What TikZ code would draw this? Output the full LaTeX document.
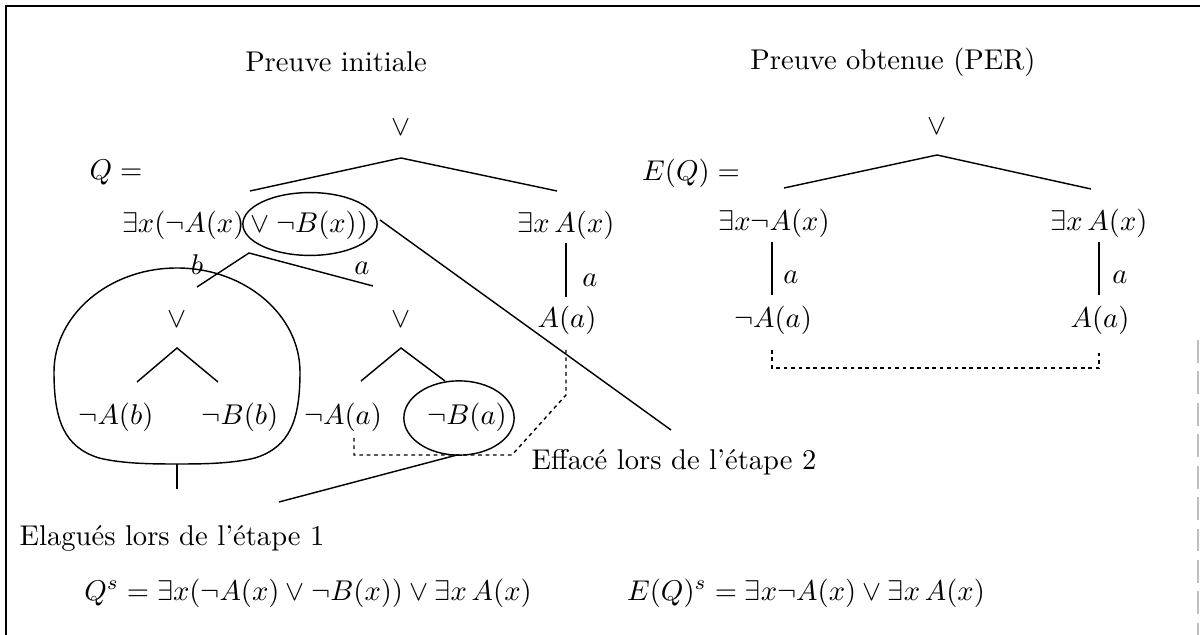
\documentclass[tikz,border=0pt]{standalone}
\begin{document}
\begin{tikzpicture}[x=0.35pt,y=-0.35pt, line width=0.5pt,
  lbl/.style={inner sep=0pt, anchor=center},
  dots/.style={dash pattern=on 1.3pt off 1.3pt, line width=0.5pt}]
\useasboundingbox (0,0) rectangle (1200,635);
% frame
\coordinate (fBL) at (6,635);
\coordinate (fTL) at (6,6);
\coordinate (fTR) at (1200,6);
\draw (fBL) -- (fTL) -- (fTR);
\coordinate (fR1) at (1198,340);
\coordinate (fR2) at (1198,635);
\draw[gray!50, dash pattern=on 8pt off 3pt] (fR1) -- (fR2);

% titles
\node[lbl] (t1) at (336,62) {Preuve initiale};
\node[lbl] (t2) at (893,62) {Preuve obtenue (PER)};

% ---------- left proof ----------
\node[lbl] (vL) at (401,128) {$\vee$};
\coordinate (apL) at (401,158);
\coordinate (brL1) at (250,191);
\coordinate (brL2) at (557,191);
\draw (brL1) -- (apL) -- (brL2);
\node[lbl] (Qeq) at (116,173) {$Q =$};
\node[lbl] (nL1) at (245,225) {$\exists x(\neg A(x) \vee \neg B(x))$};
\coordinate (e1) at (310,224);
\draw (e1) ellipse [x radius=23.5pt, y radius=11pt];
\node[lbl] (nR1) at (566,225) {$\exists x\,A(x)$};

\coordinate (vRa) at (566,243);
\coordinate (vRb) at (566,297);
\draw (vRa) -- (vRb);
\node[lbl] (lRa) at (590,280) {$a$};
\node[lbl] (nRA) at (567,320) {$A(a)$};

% long pointer to "Efface"
\coordinate (lg1) at (380,220);
\coordinate (lg2) at (671,430);
\draw (lg1) -- (lg2);
\node[lbl] (eff) at (674,462) {Effacé lors de l'étape 2};

% branch below the ellipse
\coordinate (ap2) at (249,253);
\coordinate (b2L) at (197,287);
\coordinate (b2R) at (373,286);
\draw (b2L) -- (ap2) -- (b2R);
\node[lbl] (lb) at (197,265) {$b$};
\node[lbl] (la) at (362,268) {$a$};

% pruned blob
\coordinate (blT) at (177,268);
\coordinate (blR) at (300,372);
\coordinate (blB) at (177,464);
\coordinate (blL) at (54,372);
\draw (blT) .. controls (245,268) and (300,315) .. (blR)
  .. controls (300,420) and (290,447) .. (255,458)
  .. controls (230,464) and (200,464) .. (blB)
  .. controls (154,464) and (124,464) .. (99,458)
  .. controls (64,447) and (54,420) .. (blL)
  .. controls (54,315) and (109,268) .. (blT) -- cycle;
\coordinate (st2) at (177,489);
\draw (blB) -- (st2);

\node[lbl] (vB) at (177,320) {$\vee$};
\coordinate (apB) at (177,348);
\coordinate (bB1) at (137,382);
\coordinate (bB2) at (218,382);
\draw (bB1) -- (apB) -- (bB2);
\node[lbl] (nAb) at (116,417) {$\neg A(b)$};
\node[lbl] (nBb) at (240,417) {$\neg B(b)$};

\node[lbl] (vA) at (401,320) {$\vee$};
\coordinate (apA) at (401,348);
\coordinate (bA1) at (361,381);
\coordinate (bA2) at (445,381);
\draw (bA1) -- (apA) -- (bA2);
\node[lbl] (nAa) at (343,417) {$\neg A(a)$};
\node[lbl] (nBa) at (467,417) {$\neg B(a)$};
\coordinate (e2) at (459,418);
\draw (e2) ellipse [x radius=19.3pt, y radius=13pt];

% dotted link A(a) -- not A(a)
\coordinate (d1) at (354,438);
\coordinate (d2) at (354,455);
\coordinate (d3) at (512,455);
\coordinate (d4) at (566,395);
\coordinate (d5) at (566,348);
\draw[dots] (d1) -- (d2) -- (d3) -- (d4) -- (d5);

% pointer to "Elagues"
\coordinate (p1) at (457,455);
\coordinate (p2) at (279,502);
\draw (p1) -- (p2);
\node[lbl, anchor=west] (elag) at (19,538) {Elagués lors de l'étape 1};

% formulas
\node[lbl] (fQ) at (308,593) {$Q^s = \exists x(\neg A(x)\vee\neg B(x))\vee\exists x\,A(x)$};
\node[lbl] (fE) at (806,593) {$E(Q)^s = \exists x\neg A(x)\vee\exists x\,A(x)$};

% ---------- right proof ----------
\node[lbl] (vE) at (937,127) {$\vee$};
\coordinate (apE) at (937,155);
\coordinate (bE1) at (784,188);
\coordinate (bE2) at (1091,189);
\draw (bE1) -- (apE) -- (bE2);
\node[lbl] (EQ) at (691,173) {$E(Q) =$};
\node[lbl] (nE1) at (774,223) {$\exists x\neg A(x)$};
\node[lbl] (nE2) at (1099,223) {$\exists x\,A(x)$};
\coordinate (vE1a) at (772,242);
\coordinate (vE1b) at (772,295);
\coordinate (vE2a) at (1099,242);
\coordinate (vE2b) at (1099,295);
\draw (vE1a) -- (vE1b);
\draw (vE2a) -- (vE2b);
\node[lbl] (lE1) at (791,277) {$a$};
\node[lbl] (lE2) at (1120,277) {$a$};
\node[lbl] (nE3) at (773,320) {$\neg A(a)$};
\node[lbl] (nE4) at (1100,320) {$A(a)$};
\coordinate (dE1) at (772,350);
\coordinate (dE2) at (772,368);
\coordinate (dE3) at (1099,368);
\coordinate (dE4) at (1099,350);
\draw[dots] (dE1) -- (dE2) -- (dE3) -- (dE4);
\end{tikzpicture}
\end{document}
